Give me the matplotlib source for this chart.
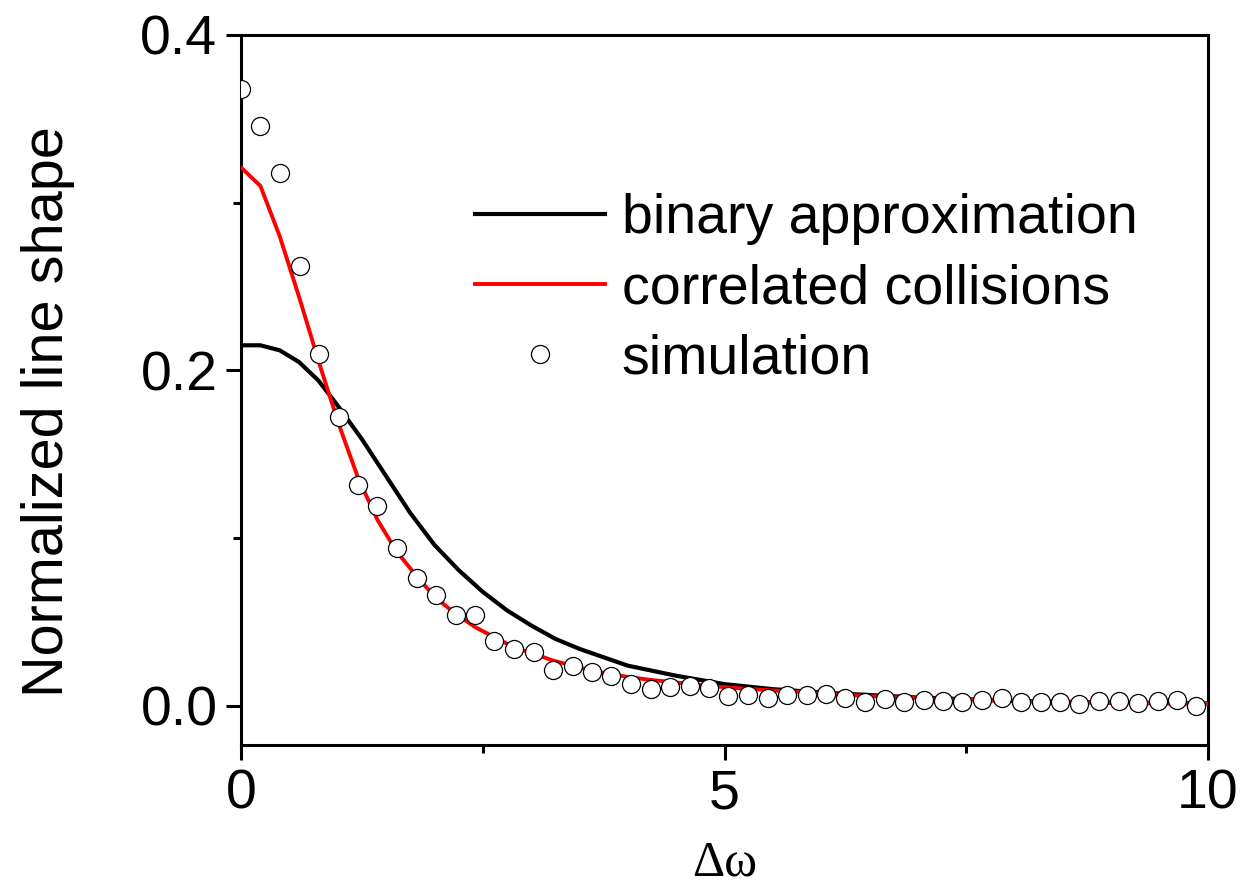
import numpy as np
import matplotlib
matplotlib.use("Agg")
import matplotlib.pyplot as plt

plt.rcParams['font.family'] = ['Liberation Sans', 'DejaVu Sans']

# simulation points
sim_x = [0.00, 0.20, 0.40, 0.61, 0.81, 1.01, 1.21, 1.41, 1.61, 1.82,
         2.02, 2.22, 2.42, 2.62, 2.82, 3.03, 3.23, 3.43, 3.63, 3.83,
         4.03, 4.24, 4.44, 4.64, 4.84, 5.04, 5.24, 5.45, 5.65, 5.85,
         6.05, 6.25, 6.45, 6.66, 6.86, 7.06, 7.26, 7.46, 7.66, 7.87,
         8.07, 8.27, 8.47, 8.67, 8.87, 9.08, 9.28, 9.48, 9.68, 9.88]
sim_y = [0.368, 0.346, 0.318, 0.262, 0.210, 0.172, 0.132, 0.119, 0.094, 0.076,
         0.066, 0.054, 0.054, 0.039, 0.034, 0.032, 0.0215, 0.024, 0.020, 0.018,
         0.013, 0.010, 0.011, 0.012, 0.0107, 0.006, 0.0064, 0.0046, 0.0066, 0.0067,
         0.0072, 0.0046, 0.0022, 0.0042, 0.0026, 0.0036, 0.0032, 0.0022, 0.0036, 0.0046,
         0.0022, 0.0026, 0.0026, 0.0010, 0.0032, 0.0030, 0.0020, 0.0030, 0.0036, 0.0000]

# correlated collisions
corr_x = sim_x + [10.0]
corr_y = [0.321, 0.310, 0.280, 0.242, 0.204, 0.168, 0.136, 0.111, 0.092, 0.077,
          0.064, 0.055, 0.047, 0.041, 0.035, 0.031, 0.027, 0.024, 0.021, 0.019,
          0.017, 0.0155, 0.0143, 0.0132, 0.012, 0.011, 0.0102, 0.0094, 0.0087, 0.008,
          0.0073, 0.0066, 0.006, 0.0054, 0.0049, 0.0045, 0.0041, 0.0037, 0.0034, 0.0031,
          0.0028, 0.0026, 0.0024, 0.0022, 0.002, 0.0018, 0.0017, 0.0015, 0.0014, 0.0013,
          0.0012]

# binary approximation
bin_x = [0, 0.2, 0.4, 0.6, 0.8, 1.0, 1.25, 1.5, 1.75, 2.0, 2.25, 2.5, 2.75,
         3.0, 3.25, 3.5, 3.75, 4.0, 4.5, 5.0, 5.5, 6.0, 7.0, 8.0, 9.0, 10.0]
bin_y = [0.215, 0.215, 0.212, 0.205, 0.194, 0.179, 0.159, 0.137, 0.115, 0.096,
         0.081, 0.068, 0.057, 0.048, 0.040, 0.034, 0.029, 0.024, 0.018, 0.013,
         0.010, 0.008, 0.005, 0.003, 0.002, 0.0015]

fig = plt.figure(figsize=(12.4, 8.9), dpi=100)
ax = fig.add_axes([0.1944, 0.1629, 0.7798, 0.7978])

ax.plot(bin_x, bin_y, color='black', lw=3, label='binary approximation', zorder=2)
ax.plot(corr_x, corr_y, color='red', lw=2.8, label='correlated collisions', zorder=3)
ax.plot(sim_x, sim_y, 'o', ms=13, mfc='white', mec='black', mew=0.9,
        label='simulation', zorder=4)

ax.set_xlim(0, 10)
ax.set_ylim(-0.0233, 0.4)
ax.set_xticks([0, 5, 10])
ax.set_xticks([2.5, 7.5], minor=True)
ax.set_yticks([0.0, 0.2, 0.4])
ax.set_yticks([0.1, 0.3], minor=True)
ax.set_yticklabels(['0.0', '0.2', '0.4'])

for s in ax.spines.values():
    s.set_linewidth(2.2)
ax.tick_params(which='major', direction='out', length=11, width=2.2,
               labelsize=40, pad=6)
ax.tick_params(which='minor', direction='out', length=6, width=2.2)
ax.tick_params(which='both', top=False, right=False)

ax.set_xlabel('Δω', family=['Liberation Serif'], fontsize=36, labelpad=14)
ax.set_ylabel('Normalized line shape', fontsize=41.5)
ax.yaxis.set_label_coords(-0.172, 0.47)

ax.legend(loc='center left', bbox_to_anchor=(0.383, 0.675),
          bbox_transform=fig.transFigure, frameon=False, fontsize=40,
          handlelength=2.34, handletextpad=0.3, labelspacing=0.32,
          borderpad=0, borderaxespad=0, numpoints=1, markerscale=1.0)

fig.savefig('out.png', dpi=100)
